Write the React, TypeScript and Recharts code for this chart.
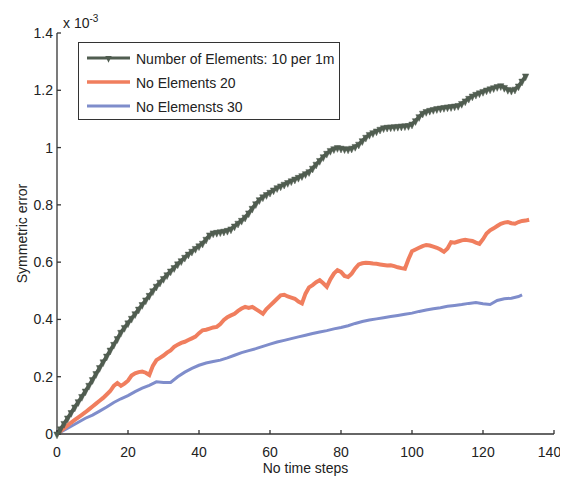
import React from "react";
import { LineChart, Line, XAxis, YAxis } from "recharts";

// values, in units of 1e-3 (axis shows "x 10^-3")
const GREEN = [
  0.0, 0.018, 0.037, 0.056, 0.075, 0.094, 0.113, 0.131, 0.15, 0.17,
  0.19, 0.211, 0.232, 0.252, 0.272, 0.293, 0.313, 0.333, 0.355, 0.372,
  0.388, 0.404, 0.42, 0.436, 0.452, 0.468, 0.484, 0.5, 0.516, 0.53,
  0.543, 0.556, 0.569, 0.581, 0.594, 0.605, 0.617, 0.628, 0.638, 0.648,
  0.657, 0.666, 0.68, 0.695, 0.702, 0.704, 0.706, 0.708, 0.711, 0.716,
  0.726, 0.736, 0.746, 0.757, 0.772, 0.788, 0.804, 0.818, 0.828, 0.836,
  0.844, 0.852, 0.86, 0.866, 0.872, 0.878, 0.884, 0.89, 0.896, 0.902,
  0.909, 0.916, 0.928, 0.942, 0.955, 0.968, 0.98, 0.99, 0.996, 1.0,
  0.998, 0.996, 0.995, 0.998, 1.004, 1.012, 1.024, 1.036, 1.046, 1.052,
  1.058, 1.064, 1.069, 1.071, 1.072, 1.073, 1.074, 1.075, 1.076, 1.077,
  1.082, 1.094, 1.108, 1.12, 1.126, 1.13, 1.133, 1.136, 1.138, 1.14,
  1.142, 1.143, 1.145, 1.147, 1.154, 1.163, 1.172, 1.18, 1.186, 1.191,
  1.196, 1.201, 1.205, 1.209, 1.213, 1.216, 1.21, 1.203, 1.2, 1.204,
  1.215, 1.232, 1.25,
];

const RED = [
  0.0, 0.01, 0.02, 0.03, 0.04, 0.049, 0.058, 0.067, 0.076, 0.086,
  0.096, 0.106, 0.116, 0.126, 0.138, 0.15, 0.168, 0.178, 0.168, 0.176,
  0.186, 0.204, 0.212, 0.216, 0.218, 0.214, 0.206, 0.238, 0.258, 0.266,
  0.274, 0.284, 0.292, 0.304, 0.312, 0.318, 0.322, 0.328, 0.334, 0.34,
  0.352, 0.362, 0.364, 0.368, 0.372, 0.374, 0.384, 0.398, 0.408, 0.414,
  0.42, 0.43, 0.438, 0.444, 0.44, 0.444, 0.436, 0.428, 0.42, 0.436,
  0.448, 0.46, 0.472, 0.484, 0.486, 0.48, 0.476, 0.472, 0.462, 0.456,
  0.49, 0.512, 0.52, 0.53, 0.537, 0.526, 0.514, 0.54, 0.56, 0.572,
  0.566, 0.552, 0.548, 0.56, 0.578, 0.592, 0.596, 0.598, 0.597, 0.595,
  0.594, 0.592, 0.59, 0.588, 0.589, 0.586, 0.582, 0.579, 0.577, 0.61,
  0.638, 0.644, 0.65, 0.656, 0.66, 0.658, 0.654, 0.65, 0.644, 0.636,
  0.648, 0.67, 0.668, 0.672, 0.676, 0.678, 0.676, 0.674, 0.668, 0.664,
  0.68, 0.7, 0.711, 0.718, 0.726, 0.734, 0.738, 0.74, 0.736, 0.734,
  0.74, 0.744, 0.745, 0.748,
];

const BLUE_STEPS = [
  0, 2, 4, 6, 8, 10, 12, 14, 16, 18, 20, 22, 24, 26, 28, 30, 32, 34, 36, 38,
  40, 42, 44, 46, 48, 50, 52, 54, 56, 58, 60, 62, 64, 66, 68, 70, 72, 74, 76,
  78, 80, 82, 84, 86, 88, 90, 92, 94, 96, 98, 100, 102, 104, 106, 108, 110,
  112, 114, 116, 118, 120, 122, 124, 126, 128, 130, 131,
];
const BLUE = [
  0.0, 0.013, 0.027, 0.041, 0.055, 0.066, 0.08, 0.094, 0.11, 0.123, 0.134,
  0.148, 0.16, 0.17, 0.182, 0.18, 0.18, 0.2, 0.216, 0.229, 0.24, 0.248, 0.253,
  0.258, 0.266, 0.275, 0.284, 0.291, 0.298, 0.306, 0.314, 0.321, 0.327, 0.333,
  0.339, 0.345, 0.351, 0.356, 0.361, 0.367, 0.372, 0.378, 0.386, 0.393, 0.398,
  0.402, 0.406, 0.41, 0.414, 0.418, 0.422, 0.428, 0.433, 0.437, 0.441, 0.446,
  0.449, 0.452, 0.456, 0.459, 0.455, 0.452, 0.466, 0.472, 0.474, 0.48, 0.486,
];

const X_TICKS = [0, 20, 40, 60, 80, 100, 120, 140];
const Y_TICKS = [0, 0.2, 0.4, 0.6, 0.8, 1, 1.2, 1.4];

const NAMES = [
  "Number of Elements: 10 per 1m",
  "No Elements 20",
  "No Elemensts 30",
];
const COLORS = ["#505d50", "#f07e5e", "#7f8dcb"];

const FONT = "'Liberation Sans', Arial, sans-serif";
const INK = "#222";

const greenData = GREEN.map((v, i) => ({ step: i, v }));
const redData = RED.map((v, i) => ({ step: i, v }));
const blueData = BLUE.map((v, i) => ({ step: BLUE_STEPS[i], v }));

// MATLAB 'v' marker
const DownTri = (props: any) => {
  const { cx, cy, index } = props;
  if (cx == null || cy == null) return <g key={`t-${index}`} />;
  return (
    <path
      key={`t-${index}`}
      d={`M${cx - 3.2},${cy - 2}L${cx + 3.2},${cy - 2}L${cx},${cy + 4.8}Z`}
      fill={COLORS[0]}
      stroke={COLORS[0]}
      strokeWidth={0.5}
    />
  );
};

function LegendBox() {
  return (
    <div
      style={{
        position: "absolute",
        left: 70,
        top: 34,
        width: 262,
        height: 78,
        border: "1px solid #333",
        background: "#fff",
        fontFamily: FONT,
        fontSize: 14,
        color: INK,
        boxSizing: "border-box",
        paddingTop: 4,
      }}
    >
      {NAMES.map((name, i) => (
        <div
          key={name}
          style={{ display: "flex", alignItems: "center", height: 24, marginLeft: 8 }}
        >
          <svg width={43} height={12} style={{ flex: "none" }}>
            <line x1={0} y1={5} x2={43} y2={5} stroke={COLORS[i]} strokeWidth={i === 1 ? 3.5 : 3.2} />
            {i === 0 && <path d="M18.3,3L24.7,3L21.5,9.8Z" fill={COLORS[0]} />}
          </svg>
          <span style={{ marginLeft: 6, whiteSpace: "nowrap" }}>{name}</span>
        </div>
      ))}
    </div>
  );
}

export default function App() {
  const tick = { fontSize: 14, fill: INK, fontFamily: FONT };
  return (
    <div style={{ position: "relative", width: 552, height: 472 }}>
      <LineChart
        width={552}
        height={472}
        margin={{ top: 25, right: 6, bottom: 6, left: 0 }}
      >
        <XAxis
          dataKey="step"
          type="number"
          domain={[0, 140]}
          ticks={X_TICKS}
          allowDuplicatedCategory={false}
          height={40}
          tick={tick}
          tickSize={-4}
          tickMargin={17}
          axisLine={{ stroke: "#333", strokeWidth: 1.3 }}
          tickLine={{ stroke: "#333", strokeWidth: 1.3 }}
          label={{
            value: "No time steps",
            position: "insideBottom",
            offset: 1,
            style: { fontSize: 14, fill: INK, fontFamily: FONT },
          }}
        />
        <YAxis
          type="number"
          domain={[0, 1.4]}
          ticks={Y_TICKS}
          width={49}
          tick={tick}
          tickSize={-4}
          tickMargin={8}
          axisLine={{ stroke: "#333", strokeWidth: 1.3 }}
          tickLine={{ stroke: "#333", strokeWidth: 1.3 }}
          label={{
            value: "Symmetric error",
            angle: -90,
            position: "insideLeft",
            offset: 14,
            style: { fontSize: 14, fill: INK, fontFamily: FONT, textAnchor: "middle" },
          }}
        />
        <Line
          data={blueData}
          dataKey="v"
          type="linear"
          stroke={COLORS[2]}
          strokeWidth={3}
          dot={false}
          isAnimationActive={false}
        />
        <Line
          data={redData}
          dataKey="v"
          type="linear"
          stroke={COLORS[1]}
          strokeWidth={4}
          dot={false}
          isAnimationActive={false}
        />
        <Line
          data={greenData}
          dataKey="v"
          type="linear"
          stroke={COLORS[0]}
          strokeWidth={3.5}
          dot={DownTri}
          isAnimationActive={false}
        />
      </LineChart>
      <div
        style={{
          position: "absolute",
          left: 55,
          top: 7,
          fontFamily: FONT,
          fontSize: 14,
          color: INK,
          whiteSpace: "nowrap",
        }}
      >
        x 10
        <span style={{ fontSize: 10, position: "relative", top: -6 }}>-3</span>
      </div>
      <LegendBox />
    </div>
  );
}
